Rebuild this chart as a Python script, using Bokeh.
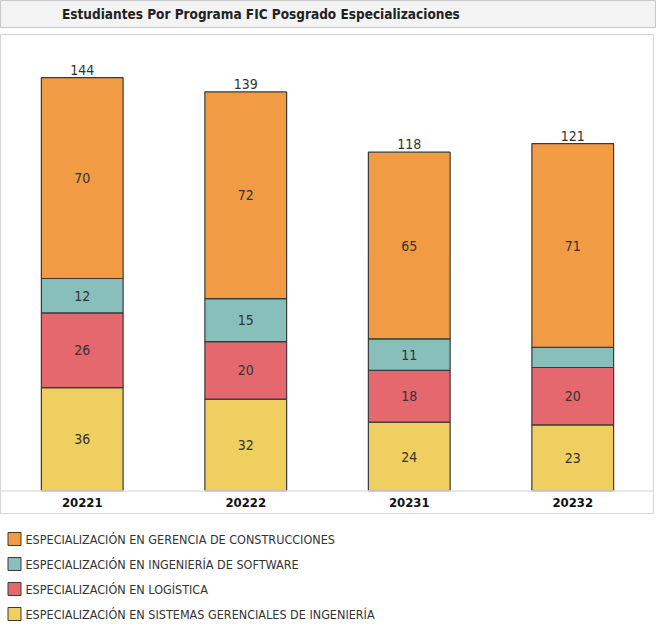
from bokeh.plotting import figure
from bokeh.layouts import column
from bokeh.models import ColumnDataSource, FactorRange, Range1d, Span
from bokeh.core.properties import value
from bokeh.embed import file_html
from bokeh.resources import INLINE

# ---- data ----
title_text = "Estudiantes Por Programa FIC Posgrado Especializaciones"
periods = ["20221", "20222", "20231", "20232"]
series_names = [
    "ESPECIALIZACIÓN EN SISTEMAS GERENCIALES DE INGENIERÍA",
    "ESPECIALIZACIÓN EN LOGÍSTICA",
    "ESPECIALIZACIÓN EN INGENIERÍA DE SOFTWARE",
    "ESPECIALIZACIÓN EN GERENCIA DE CONSTRUCCIONES",
]
sistemas = [36, 32, 24, 23]
logistica = [26, 20, 18, 20]
software = [12, 15, 11, 7]
construcciones = [70, 72, 65, 71]
colors = ["#EECF5F", "#E4686D", "#88BFBB", "#F29B45"]

FONT = "DejaVu Sans Condensed"
TXT = "#333333"
W = 654

keys = ["s", "l", "w", "c"]
vals = [sistemas, logistica, software, construcciones]
data = {"x": periods}
for k, v in zip(keys, vals):
    data[k] = v
src = ColumnDataSource(data)

# ---- title box ----
pt = figure(width=W + 2, height=30, x_range=Range1d(0, 1), y_range=Range1d(0, 1),
            output_backend="svg", toolbar_location=None, min_border=0,
            min_border_bottom=3)
pt.axis.visible = False
pt.grid.visible = False
pt.background_fill_color = "#F3F3F3"
pt.outline_line_color = "#C8C8C8"
pt.text(x=[0.397], y=[0.5], text=[title_text], text_align="center", text_baseline="middle",
        text_font=value(FONT), text_font_style="bold", text_font_size="13.5px", text_color="#222222")

# ---- main plot (frame includes the category band) ----
ymin, ymax = -8.2, 159
p = figure(width=W, height=480, x_range=FactorRange(*periods, range_padding=0),
           y_range=Range1d(ymin, ymax), output_backend="svg", toolbar_location=None,
           min_border=0)
p.axis.visible = False
p.grid.visible = False
p.outline_line_color = "#D4D4D4"
p.vbar_stack(keys, x="x", width=0.5, source=src, color=colors,
             line_color="#3A3A3A", line_width=1.2)
p.add_layout(Span(location=0, dimension="width", line_color="#E2E2E2", line_width=1.5))

# segment labels
lab_x, lab_y, lab_t = [], [], []
for i, per in enumerate(periods):
    base = 0
    for v in vals:
        seg = v[i]
        if seg >= 10:
            lab_x.append(per)
            lab_y.append(base + seg / 2)
            lab_t.append(str(seg))
        base += seg
p.text(x=lab_x, y=lab_y, text=lab_t, text_align="center", text_baseline="middle",
       text_font=value(FONT), text_font_size="14px", text_color=TXT)

totals = [sum(v[i] for v in vals) for i in range(len(periods))]
p.text(x=periods, y=totals, text=[str(t) for t in totals], text_align="center",
       text_baseline="bottom", y_offset=-3, text_font=value(FONT), text_font_size="14px",
       text_color=TXT)

# category labels in the bottom band
p.text(x=periods, y=[ymin / 2] * len(periods), text=periods, text_align="center",
       text_baseline="middle", text_font=value(FONT), text_font_style="bold",
       text_font_size="13px", text_color="#111111")

# ---- legend (separate strip) ----
legend_order = series_names  # bottom-to-top
pl = figure(width=W, height=108, x_range=Range1d(0, W), y_range=FactorRange(*legend_order, range_padding=0),
            output_backend="svg", toolbar_location=None, min_border=0, min_border_top=8)
pl.axis.visible = False
pl.grid.visible = False
pl.outline_line_color = None
pl.scatter(x=[14] * 4, y=legend_order, marker="square", size=13, fill_color=colors,
           line_color="#3A3A3A", line_width=1)
pl.text(x=[25] * 4, y=legend_order, text=legend_order, text_align="left", text_baseline="middle",
        text_font=value(FONT), text_font_size="12.5px", text_color=TXT)

layout = column(pt, p, pl, spacing=4)
open("out.html", "w").write(file_html(layout, INLINE))
